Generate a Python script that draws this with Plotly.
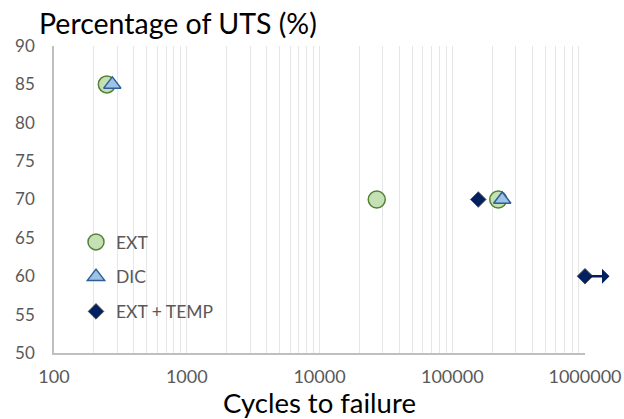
import numpy as np
import plotly.graph_objects as go

# Data
ext_cycles = [250, 27000, 222000]
ext_uts = [85, 70, 70]
dic_cycles = [275, 238000]
dic_uts = [85, 70]
temp_cycles = [157000, 1000000]
temp_uts = [70, 60]
runout_cycles = 1000000
runout_uts = 60
x_major_ticks = [100, 1000, 10000, 100000, 1000000]
x_major_labels = ["100", "1000", "10000", "100000", "1000000"]
y_ticks = [50, 55, 60, 65, 70, 75, 80, 85, 90]

FONT = "Lato"
GRAY = "#595959"

# grid values (all integer multiples within each decade)
grid_vals = []
grid_text = []
for d in x_major_ticks[:-1]:
    for m in range(1, 10):
        grid_vals.append(d * m)
        grid_text.append(x_major_labels[x_major_ticks.index(d)] if m == 1 else "")
grid_vals.append(x_major_ticks[-1])
grid_text.append(x_major_labels[-1])

fig = go.Figure()
fig.add_trace(go.Scatter(
    x=ext_cycles, y=ext_uts, mode="markers", name="EXT", legendgroup="a",
    marker=dict(symbol="circle", size=17, color="#C5E0B4",
                line=dict(color="#548235", width=1.5)),
    cliponaxis=False))
fig.add_trace(go.Scatter(
    x=dic_cycles, y=dic_uts, mode="markers", name="DIC", legendgroup="b",
    marker=dict(symbol="triangle-up", size=15, color="#9DC3E6",
                line=dict(color="#2E5E94", width=1.5)),
    cliponaxis=False))
fig.add_trace(go.Scatter(
    x=temp_cycles, y=temp_uts, mode="markers", name="EXT + TEMP", legendgroup="c",
    marker=dict(symbol="diamond", size=12, color="#002060",
                line=dict(color="#555555", width=1)),
    cliponaxis=False))

fig.add_annotation(
    x=np.log10(runout_cycles), y=runout_uts, xref="x", yref="y",
    text="", showarrow=True, ax=26, ay=0, axref="pixel", ayref="pixel",
    arrowside="start", startarrowhead=1, startarrowsize=1.0,
    arrowwidth=2.5, arrowcolor="#002060", standoff=0, startstandoff=0)

fig.update_layout(
    width=624, height=419,
    margin=dict(l=54, r=39, t=46, b=66),
    paper_bgcolor="white", plot_bgcolor="white",
    font=dict(family=FONT, color=GRAY, size=17),
    showlegend=True,
    legend=dict(x=(76 - 54) / 531, y=1 - (224 - 46) / 307, xanchor="left", yanchor="top",
                bgcolor="rgba(0,0,0,0)", font=dict(size=17.5, color=GRAY, family=FONT),
                itemwidth=30, tracegroupgap=9),
    annotations=list(fig.layout.annotations) + [
        dict(text="Percentage of UTS (%)", xref="paper", yref="paper",
             x=-17 / 531, y=1 + 4 / 307, xanchor="left", yanchor="bottom",
             showarrow=False, font=dict(size=28.5, color="black", family=FONT)),
    ],
)
fig.update_xaxes(
    type="log", range=[2, 6], tickvals=grid_vals, ticktext=grid_text,
    showgrid=True, gridcolor="#E6E6E6", gridwidth=1,
    showline=True, linecolor="#BFBFBF", linewidth=1.5,
    ticks="", ticklabelstandoff=7, tickfont=dict(size=18, color=GRAY),
    zeroline=False, automargin=False,
    title=dict(text="Cycles to failure", font=dict(size=27.5, color="black", family=FONT), standoff=1))
fig.update_yaxes(
    range=[50, 90], tickvals=y_ticks, showgrid=False,
    showline=True, linecolor="#BFBFBF", linewidth=1.5,
    ticks="", ticklabelstandoff=14, tickfont=dict(size=17, color=GRAY),
    zeroline=False, automargin=False)

fig.write_html("out.html", config={"displayModeBar": False},
               post_script="document.body.style.margin='0px';")
